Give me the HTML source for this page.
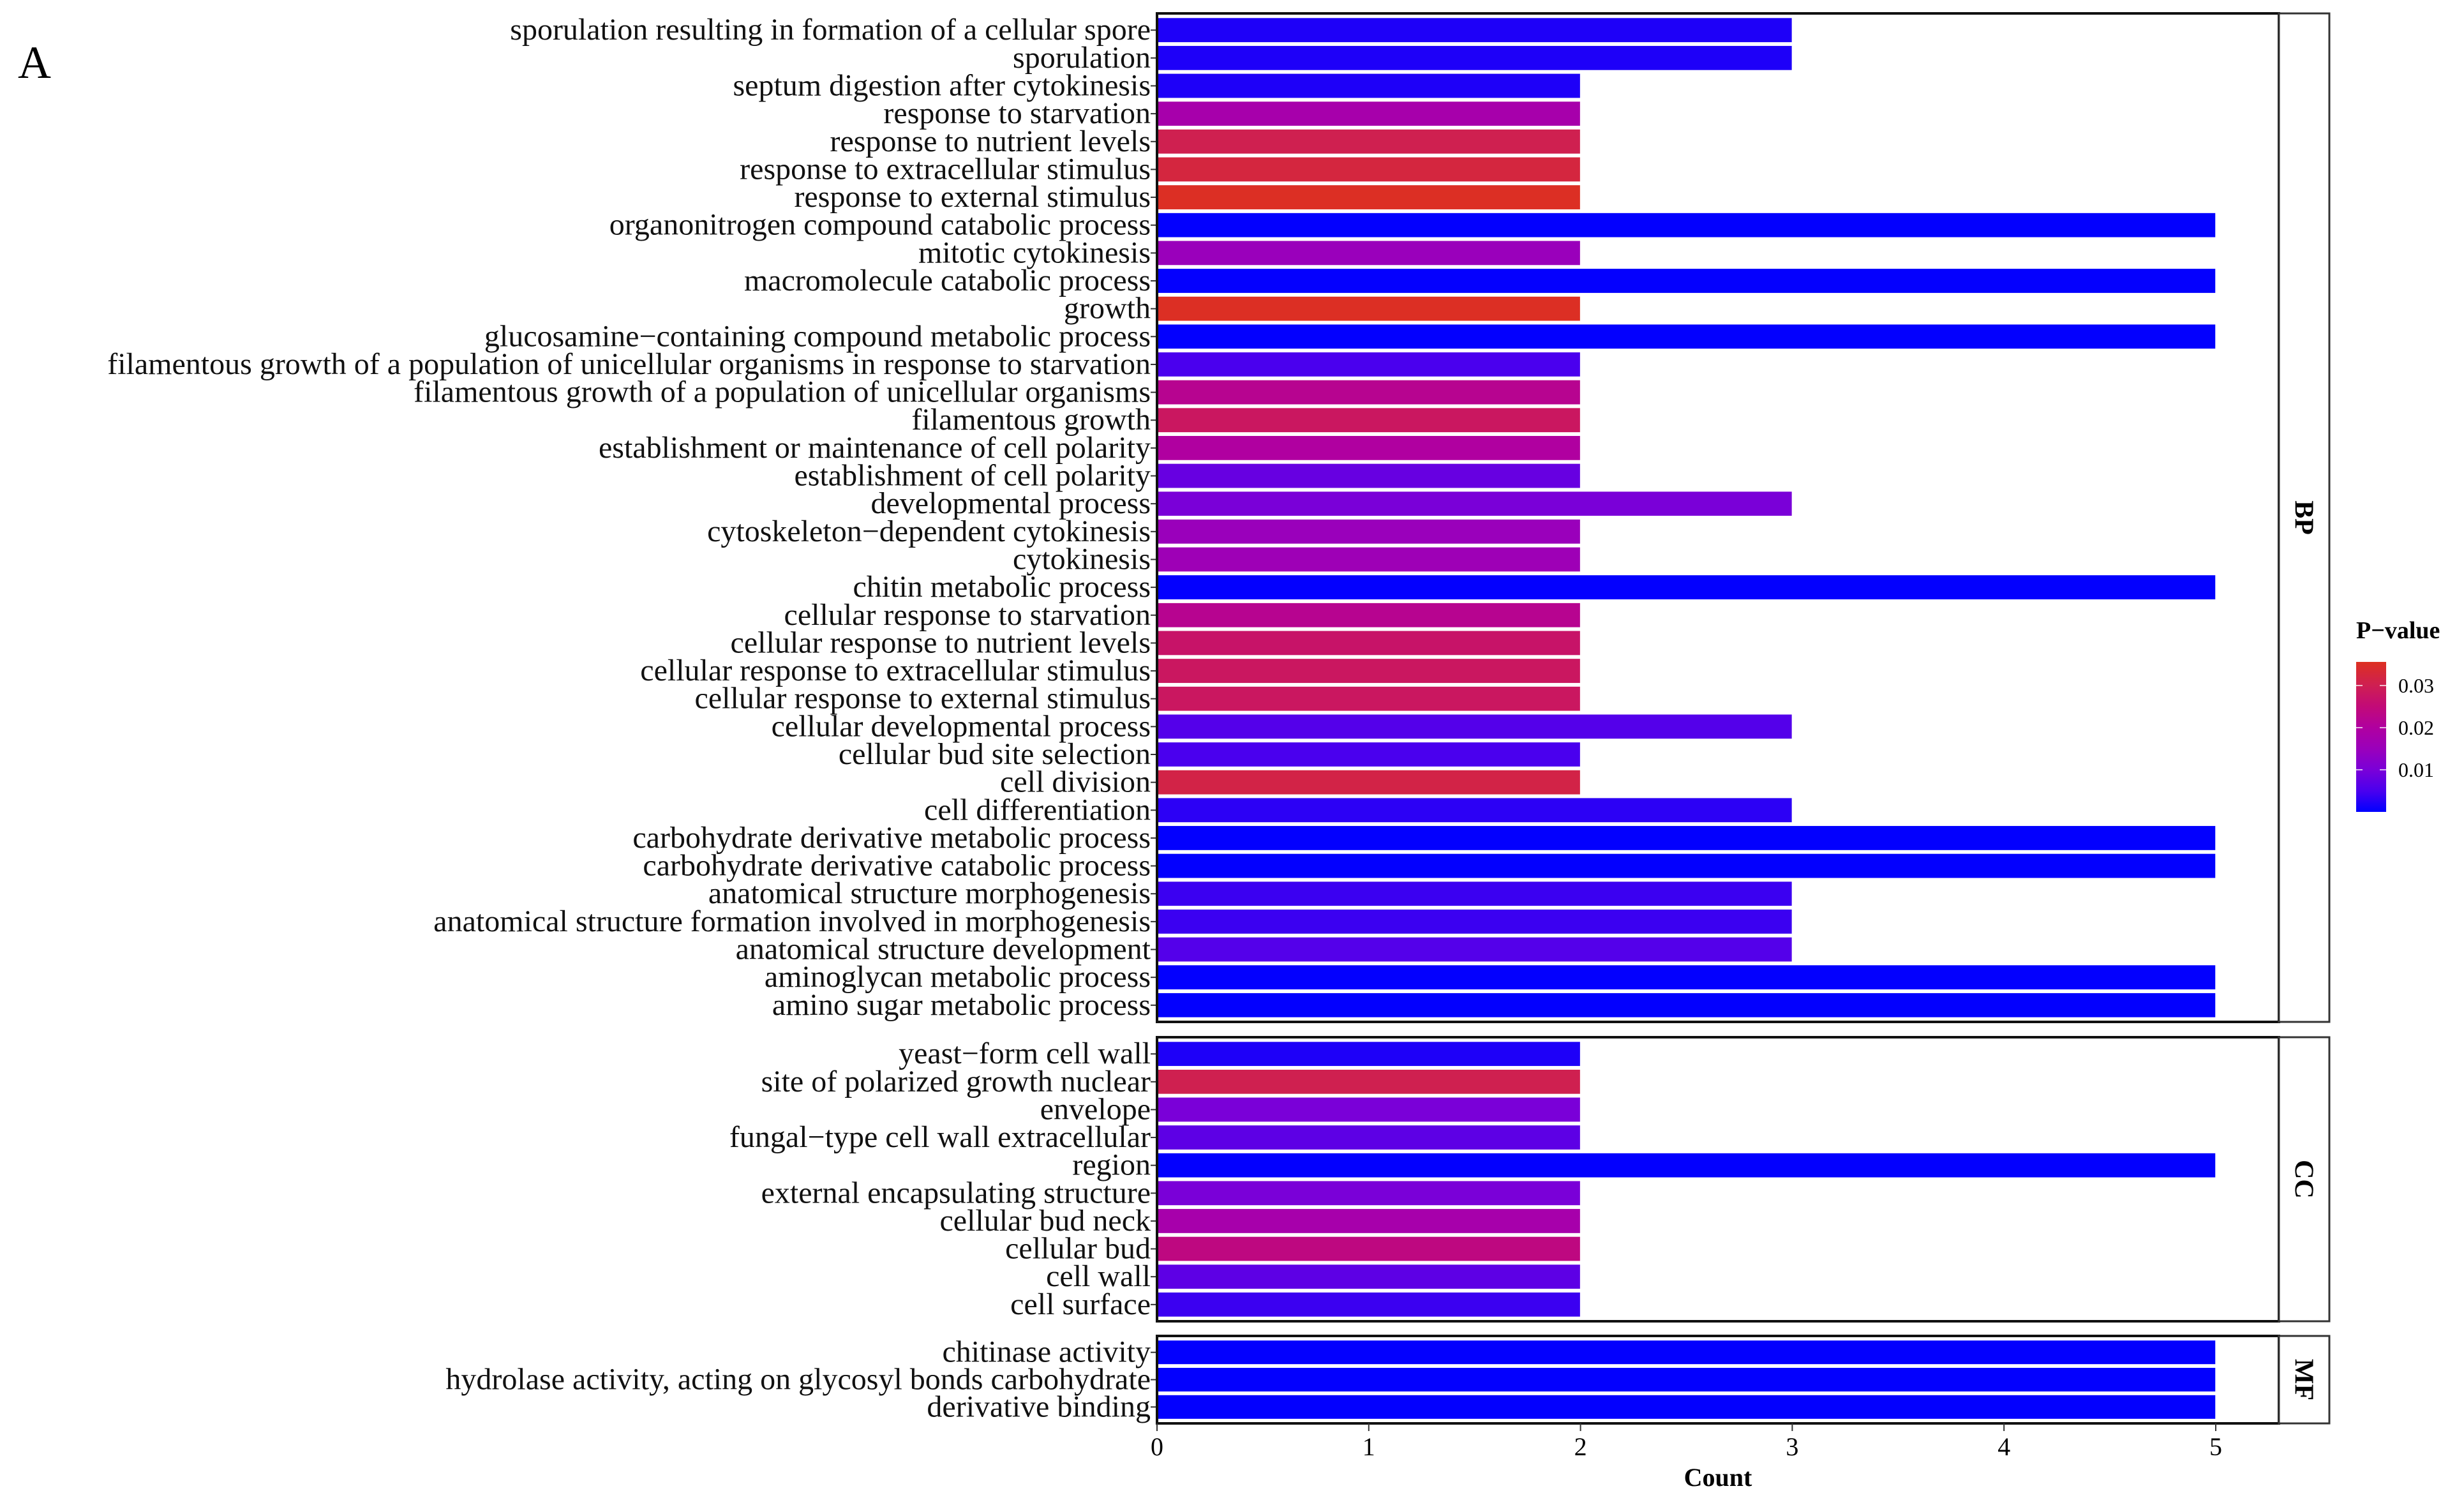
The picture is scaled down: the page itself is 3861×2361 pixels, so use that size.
<!DOCTYPE html>
<html><head><meta charset="utf-8">
<style>
html,body{margin:0;padding:0;background:#fff;}
svg{display:block;font-family:"Liberation Serif",serif;}
</style></head>
<body>
<svg id="chart" width="3861" height="2361" viewBox="0 0 3861 2361" xmlns="http://www.w3.org/2000/svg">
<defs>
<linearGradient id="pgrad" x1="0" y1="1" x2="0" y2="0">
<stop offset="0" stop-color="#0000ff"/>
<stop offset="0.14" stop-color="#4a00ee"/>
<stop offset="0.28" stop-color="#7a00d8"/>
<stop offset="0.42" stop-color="#9a00bb"/>
<stop offset="0.56" stop-color="#b000a0"/>
<stop offset="0.70" stop-color="#c20a78"/>
<stop offset="0.85" stop-color="#cf2050"/>
<stop offset="1" stop-color="#dd3020"/>
</linearGradient>
</defs>
<text x="28" y="122" font-size="72">A</text>
<g id="plot"></g>
</svg>
<script>
const bpTerms = ["sporulation resulting in formation of a cellular spore","sporulation","septum digestion after cytokinesis","response to starvation","response to nutrient levels","response to extracellular stimulus","response to external stimulus","organonitrogen compound catabolic process","mitotic cytokinesis","macromolecule catabolic process","growth","glucosamine\u2212containing compound metabolic process","filamentous growth of a population of unicellular organisms in response to starvation","filamentous growth of a population of unicellular organisms","filamentous growth","establishment or maintenance of cell polarity","establishment of cell polarity","developmental process","cytoskeleton\u2212dependent cytokinesis","cytokinesis","chitin metabolic process","cellular response to starvation","cellular response to nutrient levels","cellular response to extracellular stimulus","cellular response to external stimulus","cellular developmental process","cellular bud site selection","cell division","cell differentiation","carbohydrate derivative metabolic process","carbohydrate derivative catabolic process","anatomical structure morphogenesis","anatomical structure formation involved in morphogenesis","anatomical structure development","aminoglycan metabolic process","amino sugar metabolic process"];
const bpCounts = [3,3,2,2,2,2,2,5,2,5,2,5,2,2,2,2,2,3,2,2,5,2,2,2,2,3,2,2,3,5,5,3,3,3,5,5];
const bpPvals = [0.002,0.002,0.002,0.018,0.030,0.032,0.035,0.0002,0.015,0.0003,0.035,0.0002,0.005,0.022,0.028,0.020,0.008,0.010,0.015,0.016,0.0002,0.022,0.027,0.028,0.028,0.006,0.005,0.031,0.003,0.0002,0.0002,0.004,0.004,0.006,0.0002,0.0002];
const ccTerms = ["yeast\u2212form cell wall","site of polarized growth nuclear","envelope","fungal\u2212type cell wall extracellular","region","external encapsulating structure","cellular bud neck","cellular bud","cell wall","cell surface"];
const ccCounts = [2,2,2,2,5,2,2,2,2,2];
const ccPvals = [0.002,0.030,0.010,0.007,0.0002,0.010,0.018,0.024,0.007,0.004];
const mfTerms = ["chitinase activity","hydrolase activity, acting on glycosyl bonds carbohydrate","derivative binding"];
const mfCounts = [5,5,5];
const mfPvals = [0.0002,0.0002,0.0002];
const xTicks = [0,1,2,3,4,5];
const legendTicks = [0.01,0.02,0.03];

const NS="http://www.w3.org/2000/svg";
const g=document.getElementById('plot');
function mk(tag,attrs,parent){const e=document.createElementNS(NS,tag);for(const k in attrs)e.setAttribute(k,attrs[k]);(parent||g).appendChild(e);return e;}
const X0=1813, XR=3571, SR=3650, UNIT=331.8;
const xs=v=>X0+v*UNIT;
const stops=[[0,[0,0,255]],[0.005,[74,0,238]],[0.01,[122,0,216]],[0.015,[154,0,187]],[0.02,[176,0,160]],[0.025,[194,10,120]],[0.03,[207,32,80]],[0.0355,[221,48,32]]];
function col(p){for(let i=1;i<stops.length;i++){if(p<=stops[i][0]){const a=stops[i-1],b=stops[i];const t=(p-a[0])/(b[0]-a[0]);const c=a[1].map((v,j)=>Math.round(v+(b[1][j]-v)*t));return `rgb(${c})`;}}return 'rgb(221,48,32)';}

const panels=[{name:'BP',terms:bpTerms,counts:bpCounts,pvals:bpPvals,top:21,bot:1601},
{name:'CC',terms:ccTerms,counts:ccCounts,pvals:ccPvals,top:1625,bot:2070},
{name:'MF',terms:mfTerms,counts:mfCounts,pvals:mfPvals,top:2093,bot:2230}];
panels.forEach(P=>{
  const n=P.terms.length, step=(P.bot-P.top)/(n+0.2);
  const pg=mk('g',{});
  
  
  P.terms.forEach((t,i)=>{
    const cy=P.top+step*(0.6+i);
    const r=mk('rect',{x:X0,y:cy-step*0.45,width:xs(P.counts[i])-X0,height:step*0.9,fill:col(P.pvals[i]),stroke:'#fff','stroke-width':1.5},pg);
    
    
    const tx=mk('text',{x:X0-10,y:cy+15,'text-anchor':'end','font-size':48,fill:'#111'},pg);
    tx.textContent=t;
    
    
    mk('line',{x1:X0-10,x2:X0,y1:cy,y2:cy,stroke:'#333','stroke-width':2},pg);
  });
  const fr=mk('rect',{x:X0,y:P.top,width:XR-X0,height:P.bot-P.top,fill:'none',stroke:'#111','stroke-width':4},pg);
  
  
  const st=mk('rect',{x:XR,y:P.top,width:SR-XR,height:P.bot-P.top,fill:'#fff',stroke:'#333','stroke-width':3},pg);
  
  
  const cy=(P.top+P.bot)/2, cx=(XR+SR)/2;
  const sl=mk('text',{x:cx,y:cy,'font-size':42,'font-weight':'bold','text-anchor':'middle',transform:`rotate(90 ${cx} ${cy})`,dy:14},pg);
  sl.textContent=P.name;
  
  
});
xTicks.forEach(v=>{
  mk('line',{x1:xs(v),x2:xs(v),y1:2230,y2:2242,stroke:'#333','stroke-width':2});
  const t=mk('text',{x:xs(v),y:2280,'text-anchor':'middle','font-size':40});
  t.textContent=v;
  
  
});
const xt=mk('text',{x:2692,y:2328,'text-anchor':'middle','font-size':40,'font-weight':'bold'});
xt.textContent='Count';


// legend
const LB=1272, LT=1037, LPX=6600;
const ly=p=>LB-p*LPX;
const lt=mk('text',{x:3692,y:1000,'font-size':38,'font-weight':'bold'});
lt.textContent='P\u2212value';


const lb=mk('rect',{x:3692,y:LT,width:47,height:LB-LT,fill:'url(#pgrad)'});


legendTicks.forEach(v=>{
  mk('line',{x1:3692,x2:3702,y1:ly(v),y2:ly(v),stroke:'#fff','stroke-width':2,opacity:0.7});
  mk('line',{x1:3729,x2:3739,y1:ly(v),y2:ly(v),stroke:'#fff','stroke-width':2,opacity:0.7});
  const t=mk('text',{x:3758,y:ly(v)+11,'font-size':32});
  t.textContent=v.toFixed(2);
  
  
});
</script>
</body></html>
